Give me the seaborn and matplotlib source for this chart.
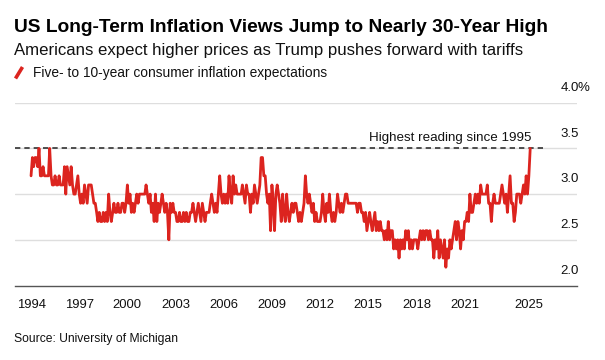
import numpy as np
import pandas as pd
import matplotlib
matplotlib.use("Agg")
import matplotlib.pyplot as plt
import matplotlib.transforms as mtransforms
from matplotlib.lines import Line2D
import seaborn as sns

# ---- data: University of Michigan 5-10 year inflation expectations (%), monthly from Jan 1994 ----
y1994 = [3.2, 3.4, 3.3, 3.4, 3.4, 3.3, 3.5, 3.2, 3.2, 3.3, 3.2, 3.2]
y1995 = [3.2, 3.2, 3.5, 3.2, 3.1, 3.1, 3.2, 3.1, 3.1, 3.2, 3.1, 3.1]
y1996 = [3.1, 3.3, 3.0, 3.3, 3.2, 3.1, 3.3, 3.1, 3.0, 3.0, 3.1, 3.2]
y1997 = [3.0, 2.9, 3.0, 2.9, 3.1, 3.0, 2.9, 3.1, 3.1, 3.1, 3.0, 2.9]
y1998 = [2.9, 2.8, 2.7, 2.8, 2.7, 2.7, 2.8, 2.7, 2.8, 2.7, 3.0, 2.8]
y1999 = [2.7, 2.8, 2.9, 2.8, 2.8, 2.9, 2.8, 2.8, 2.9, 2.9, 2.8, 2.9]
y2000 = [3.1, 2.9, 3.0, 2.8, 2.9, 2.8, 2.9, 3.0, 2.9, 3.0, 3.0, 3.0]
y2001 = [3.0, 3.0, 3.1, 3.0, 2.9, 3.0, 2.8, 2.9, 2.7, 3.0, 2.7, 2.9]
y2002 = [2.8, 2.9, 3.0, 2.9, 2.8, 2.9, 2.8, 2.5, 2.9, 2.8, 2.9, 2.8]
y2003 = [2.8, 2.7, 2.7, 2.8, 2.7, 2.7, 2.8, 2.7, 2.8, 2.7, 2.7, 2.8]
y2004 = [2.8, 2.9, 2.8, 2.7, 2.8, 2.9, 2.8, 2.7, 2.9, 2.8, 2.7, 2.8]
y2005 = [2.8, 2.8, 2.9, 3.0, 2.9, 2.8, 2.9, 2.8, 3.0, 3.2, 3.0, 2.9]
y2006 = [3.0, 2.9, 3.0, 2.9, 3.2, 3.0, 2.9, 3.2, 3.0, 3.1, 3.0, 3.0]
y2007 = [3.0, 3.0, 3.1, 3.0, 2.9, 3.1, 3.0, 3.0, 2.8, 3.0, 2.9, 3.1]
y2008 = [3.0, 2.9, 3.0, 3.1, 3.4, 3.4, 3.2, 3.2, 3.0, 2.9, 3.0, 2.6]
y2009 = [3.1, 2.9, 2.6, 3.0, 3.1, 3.0, 2.9, 2.7, 3.0, 2.8, 2.7, 3.0]
y2010 = [2.8, 2.7, 2.8, 2.9, 2.8, 2.9, 2.9, 2.8, 2.7, 2.8, 2.7, 2.8]
y2011 = [2.9, 3.2, 3.0, 2.9, 3.0, 2.9, 2.8, 2.9, 2.7, 2.8, 2.7, 2.7]
y2012 = [2.7, 2.8, 3.0, 2.8, 2.7, 2.9, 2.8, 3.0, 2.8, 2.7, 2.8, 2.7]
y2013 = [2.8, 3.0, 2.9, 2.8, 2.9, 2.8, 2.9, 3.0, 3.0, 2.9, 2.9, 2.9]
y2014 = [2.9, 2.9, 2.9, 2.9, 2.8, 2.9, 2.9, 2.8, 2.8, 2.7, 2.8, 2.6]
y2015 = [2.7, 2.8, 2.7, 2.6, 2.7, 2.8, 2.6, 2.7, 2.6, 2.7, 2.6, 2.6]
y2016 = [2.5, 2.6, 2.5, 2.7, 2.5, 2.6, 2.6, 2.4, 2.5, 2.4, 2.5, 2.3]
y2017 = [2.5, 2.4, 2.5, 2.4, 2.6, 2.5, 2.6, 2.4, 2.5, 2.4, 2.5, 2.5]
y2018 = [2.5, 2.4, 2.5, 2.6, 2.5, 2.6, 2.5, 2.6, 2.6, 2.5, 2.6, 2.5]
y2019 = [2.5, 2.3, 2.5, 2.4, 2.6, 2.3, 2.5, 2.4, 2.3, 2.5, 2.2, 2.4]
y2020 = [2.3, 2.5, 2.4, 2.5, 2.6, 2.7, 2.5, 2.7, 2.6, 2.4, 2.6, 2.5]
y2021 = [2.7, 2.7, 2.8, 2.7, 3.0, 2.8, 2.8, 2.9, 3.0, 2.9, 3.0, 2.9]
y2022 = [3.1, 3.0, 3.0, 3.0, 3.0, 3.1, 2.9, 2.9, 2.7, 2.9, 3.0, 2.9]
y2023 = [2.9, 2.9, 2.9, 3.0, 3.1, 3.0, 2.9, 3.0, 2.8, 3.0, 3.2, 2.9]
y2024 = [2.9, 2.7, 2.8, 3.0, 3.0, 3.0, 2.9, 3.0, 3.1, 3.0, 3.2, 3.0]
y2025 = [3.2, 3.5]

start_month = "1994-01-01"
x_tick_years = [1994, 1997, 2000, 2003, 2006, 2009, 2012, 2015, 2018, 2021, 2025]
y_ticks = [2.0, 2.5, 3.0, 3.5, 4.0]
y_tick_labels = ["2.0", "2.5", "3.0", "3.5", "4.0"]

title = "US Long-Term Inflation Views Jump to Nearly 30-Year High"
subtitle = "Americans expect higher prices as Trump pushes forward with tariffs"
legend_label = "Five- to 10-year consumer inflation expectations"
annotation = "Highest reading since 1995"
source = "Source: University of Michigan"

values = (y1994 + y1995 + y1996 + y1997 + y1998 + y1999 + y2000 + y2001 + y2002 +
          y2003 + y2004 + y2005 + y2006 + y2007 + y2008 + y2009 + y2010 + y2011 +
          y2012 + y2013 + y2014 + y2015 + y2016 + y2017 + y2018 + y2019 + y2020 +
          y2021 + y2022 + y2023 + y2024 + y2025)
dates = pd.date_range(start_month, periods=len(values), freq="MS")
df = pd.DataFrame({"date": dates, "value": values})

# ---- styling ----
sns.set_theme(style="white")
FONT = ["Liberation Sans", "DejaVu Sans"]
plt.rcParams["font.family"] = FONT

RED = "#dc241f"
W, H = 605, 360
fig = plt.figure(figsize=(W / 100, H / 100), dpi=100)
fig.patch.set_facecolor("white")

def fx(px):
    return px / W

def fy(py):
    return 1 - py / H

ax_left, ax_right, ax_bottom, ax_top = 15, 577, 285.5, 102.7
ax = fig.add_axes([fx(ax_left), fy(ax_bottom), fx(ax_right - ax_left), (ax_bottom - ax_top) / H])
ax.set_facecolor("white")

sns.lineplot(data=df, x="date", y="value", ax=ax, color=RED, linewidth=2.0, legend=False)

ax.set_xlim(pd.Timestamp("1993-01-01"), pd.Timestamp("2028-01-01"))
ax.set_ylim(y_ticks[0], y_ticks[-1])

# gridlines
for v in y_ticks[1:]:
    ax.axhline(v, color="#dedede", linewidth=1.0, zorder=0)

# dashed reference line at latest reading
last_val = values[-1]
ax.axhline(last_val, xmin=0, xmax=(547 - ax_left) / (ax_right - ax_left),
           color="#333333", linewidth=1.2, dashes=(3.2, 2.4), zorder=1)
ax.annotate(annotation, xy=(dates[-1], last_val), xytext=(1, 5), textcoords="offset points",
            ha="right", va="baseline", fontsize=9.6, color="#111111")

# spines
for s in ["top", "right", "left"]:
    ax.spines[s].set_visible(False)
ax.spines["bottom"].set_color("#555555")
ax.spines["bottom"].set_linewidth(1.0)

ax.set_xticks([pd.Timestamp(f"{y}-01-01") for y in x_tick_years])
ax.set_xticklabels([str(y) for y in x_tick_years], fontsize=9.4, color="#111111")
ax.tick_params(axis="x", direction="out", length=5, width=1, color="#555555", pad=5)
ax.set_yticks([])
ax.set_xlabel("")
ax.set_ylabel("")

# y labels on the right above gridlines
trans = mtransforms.blended_transform_factory(ax.transAxes, ax.transData)
for v, lab in zip(y_ticks, y_tick_labels):
    t = mtransforms.offset_copy(trans, fig=fig, x=1.5, y=8.5, units="points")
    ax.text(1.0, v, lab, transform=t, ha="right", va="baseline", fontsize=9.5,
            color="#111111", clip_on=False)
t = mtransforms.offset_copy(trans, fig=fig, x=0.6, y=8.5, units="points")
ax.text(1.0, y_ticks[-1], "%", transform=t, ha="left", va="baseline", fontsize=9.5,
        color="#111111", clip_on=False)

# titles
fig.text(fx(14), fy(32), title, fontsize=13.8, fontweight="bold", color="#000000",
         ha="left", va="baseline")
fig.text(fx(14), fy(54.5), subtitle, fontsize=12.1, color="#111111", ha="left", va="baseline")
fig.add_artist(Line2D([fx(15.5), fx(22.5)], [fy(78.5), fy(67)], color=RED, linewidth=2.6,
                      solid_capstyle="butt"))
fig.text(fx(33), fy(77.5), legend_label, fontsize=9.9, color="#111111", ha="left", va="baseline")
fig.text(fx(14), fy(342), source, fontsize=8.7, color="#111111", ha="left", va="baseline")

fig.savefig("out.png", dpi=100, facecolor="white")
